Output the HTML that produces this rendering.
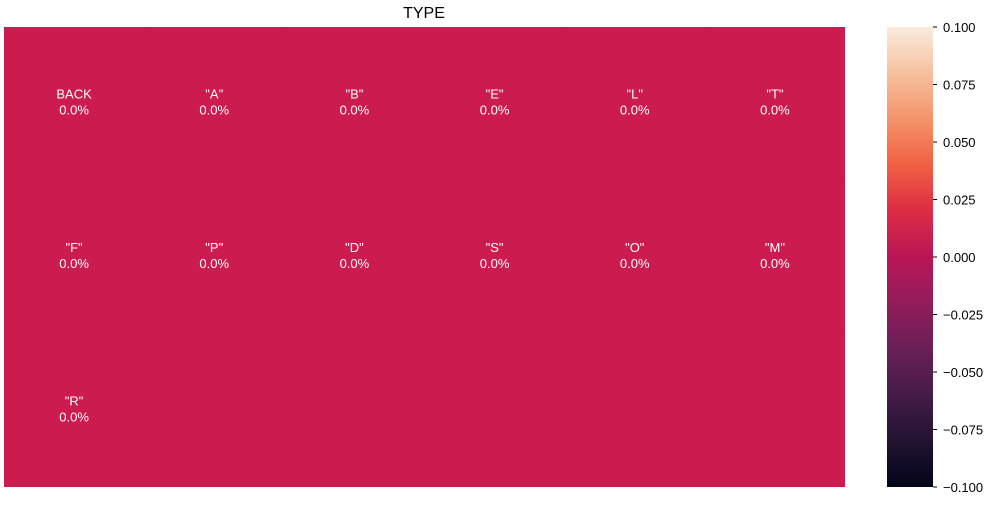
<!DOCTYPE html>
<html><head><meta charset="utf-8"><style>
body{margin:0;background:#fff;font-family:"Liberation Sans","DejaVu Sans",sans-serif}
</style></head><body>
<svg width="1000" height="500" xmlns="http://www.w3.org/2000/svg">
<defs><linearGradient id="rocket" x1="0" y1="1" x2="0" y2="0">
<stop offset="0" stop-color="#03051A"/><stop offset="0.1" stop-color="#221331"/><stop offset="0.2" stop-color="#451C47"/>
<stop offset="0.3" stop-color="#6A1F56"/><stop offset="0.4" stop-color="#921C5B"/><stop offset="0.5" stop-color="#BA1656"/>
<stop offset="0.6" stop-color="#DD2C45"/><stop offset="0.7" stop-color="#F06043"/><stop offset="0.8" stop-color="#F5936A"/>
<stop offset="0.9" stop-color="#F6C19F"/><stop offset="1" stop-color="#FAEBDD"/></linearGradient></defs>
<text x="424" y="18" font-size="16" text-anchor="middle" fill="#000">TYPE</text>
<g id="cells"></g>
<rect x="887" y="27" width="46" height="460" fill="url(#rocket)"/>
<g id="cbticks"></g>
</svg>
<script>
const labels=["BACK","\"A\"","\"B\"","\"E\"","\"L\"","\"T\"","\"F\"","\"P\"","\"D\"","\"S\"","\"O\"","\"M\"","\"R\""];
const values=[0,0,0,0,0,0,0,0,0,0,0,0,0];
const cbTicks=[0.1,0.075,0.05,0.025,0,-0.025,-0.05,-0.075,-0.1];
const NS="http://www.w3.org/2000/svg";
const X0=4,X1=845,Y0=27,Y1=487,cols=6,rows=3;
const cw=(X1-X0)/cols,ch=(Y1-Y0)/rows;
const vmin=-0.1,vmax=0.1;
const stops=[[0,"#03051A"],[0.1,"#221331"],[0.2,"#451C47"],[0.3,"#6A1F56"],[0.4,"#921C5B"],[0.5,"#CB1B4F"],[0.6,"#DD2C45"],[0.7,"#F06043"],[0.8,"#F5936A"],[0.9,"#F6C19F"],[1,"#FAEBDD"]];
function hex(h){return [1,3,5].map(i=>parseInt(h.substr(i,2),16));}
function cmap(v){let t=Math.max(0,Math.min(1,(v-vmin)/(vmax-vmin)));
for(let i=1;i<stops.length;i++){if(t<=stops[i][0]){const a=hex(stops[i-1][1]),b=hex(stops[i][1]);const f=(t-stops[i-1][0])/(stops[i][0]-stops[i-1][0]);return "rgb("+a.map((c,k)=>Math.round(c+(b[k]-c)*f)).join(",")+")";}}return stops[10][1];}
const g=document.getElementById("cells");
const bg=document.createElementNS(NS,"rect");
bg.setAttribute("x",X0);bg.setAttribute("y",Y0);bg.setAttribute("width",X1-X0);bg.setAttribute("height",Y1-Y0);bg.setAttribute("fill",cmap(0));


g.appendChild(bg);
labels.forEach((l,i)=>{
const c=i%cols,r=Math.floor(i/cols);
const rect=document.createElementNS(NS,"rect");
rect.setAttribute("x",X0+c*cw);rect.setAttribute("y",Y0+r*ch);rect.setAttribute("width",cw);rect.setAttribute("height",ch);rect.setAttribute("fill",cmap(values[i]));


g.appendChild(rect);
const cx=X0+c*cw+cw/2,cy=Y0+r*ch+ch/2;
[[l,cy-5],[(values[i]*100).toFixed(1)+"%",cy+11]].forEach(([s,y])=>{
const t=document.createElementNS(NS,"text");
t.setAttribute("x",cx);t.setAttribute("y",y);t.setAttribute("text-anchor","middle");t.setAttribute("font-size","13");t.setAttribute("fill","#fff");
t.textContent=s;


g.appendChild(t);});
});
const tg=document.getElementById("cbticks");
cbTicks.forEach(v=>{
const y=Y1-(v-vmin)/(vmax-vmin)*(Y1-Y0);
const ln=document.createElementNS(NS,"line");
ln.setAttribute("x1",933);ln.setAttribute("x2",937);ln.setAttribute("y1",y);ln.setAttribute("y2",y);ln.setAttribute("stroke","#000");


tg.appendChild(ln);
const t=document.createElementNS(NS,"text");
t.setAttribute("x",943);t.setAttribute("y",y+5);t.setAttribute("font-size","13");t.setAttribute("fill","#000");
t.textContent=(v<0?"\u2212":"")+Math.abs(v).toFixed(3);


tg.appendChild(t);
});
</script>
</body></html>
